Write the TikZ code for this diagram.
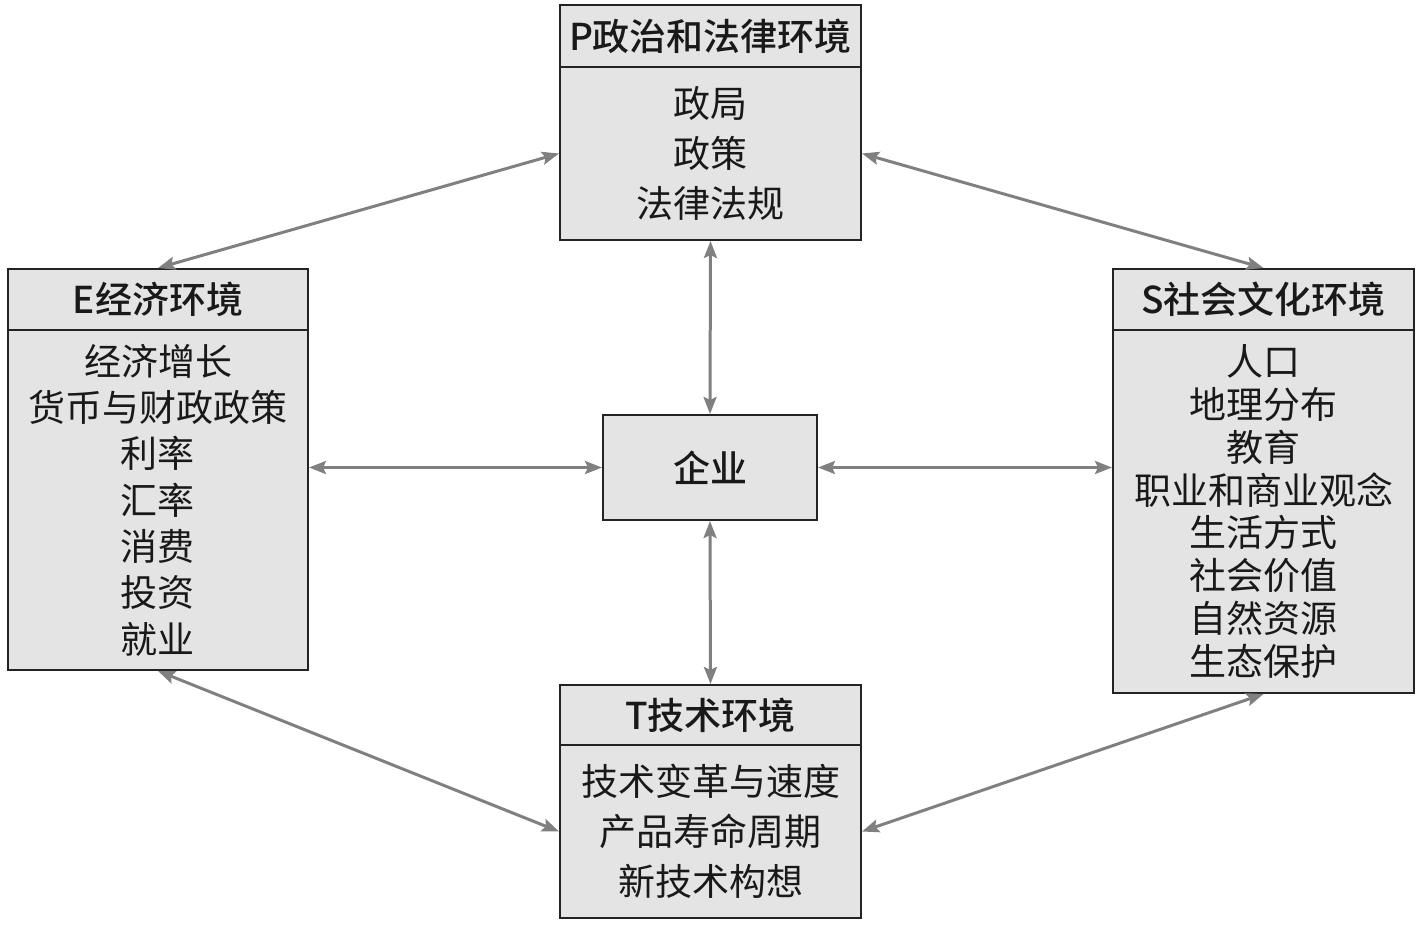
\documentclass[tikz,border=0pt]{standalone}
\usepackage{fontspec}
\setmainfont{Noto Sans CJK SC}[BoldFont={Noto Sans CJK SC Medium}]
\usetikzlibrary{arrows.meta}
\definecolor{boxfill}{RGB}{228,228,228}
\definecolor{boxline}{RGB}{35,35,35}
\definecolor{arrowgray}{RGB}{128,128,128}
\begin{document}
\begin{tikzpicture}[x=1pt,y=-1pt,
  box/.style={draw=boxline,fill=boxfill,line width=2pt,inner sep=0pt,align=center,text=black!90},
  titlebox/.style={box,font=\fontsize{37}{40}\selectfont\bfseries},
  bodybox/.style={box,font=\fontsize{37}{#1}\selectfont},
  link/.style={draw=arrowgray,line width=3pt,{Stealth[length=17pt,width=13pt,inset=3pt]}-{Stealth[length=17pt,width=13pt,inset=3pt]}}
]
\useasboundingbox (0,0) rectangle (1422,926);
% P
\node[titlebox,minimum width=301pt,minimum height=62pt] (Pt) at (710.5,36) {P政治和法律环境};
\node[bodybox=50pt,minimum width=301pt,minimum height=173pt] (Pb) at (710.5,153.5) {政局\\政策\\法律法规};
% E
\node[titlebox,minimum width=300pt,minimum height=61pt] (Et) at (158,299.5) {E经济环境};
\node[bodybox=46.3pt,minimum width=300pt,minimum height=340pt] (Eb) at (158,500) {经济增长\\货币与财政政策\\利率\\汇率\\消费\\投资\\就业};
% S
\node[titlebox,minimum width=301pt,minimum height=61pt] (St) at (1263.5,299.5) {S社会文化环境};
\node[bodybox=42.8pt,minimum width=301pt,minimum height=363pt] (Sb) at (1263.5,511.5) {人口\\地理分布\\教育\\职业和商业观念\\生活方式\\社会价值\\自然资源\\生态保护};
% T
\node[titlebox,minimum width=301pt,minimum height=60pt] (Tt) at (710.5,715) {T技术环境};
\node[bodybox=50pt,minimum width=301pt,minimum height=173pt] (Tb) at (710.5,831.5) {技术变革与速度\\产品寿命周期\\新技术构想};
% center
\node[titlebox,minimum width=214pt,minimum height=105pt] (Q) at (710,467.5) {企业};
% links
\draw[link] (Et.north) -- (Pb.west);
\draw[link] (Pb.east) -- (St.north);
\draw[link] (Eb.south) -- (Tb.west);
\draw[link] (Tb.east) -- (Sb.south);
\draw[link] (Pb.south) -- (Q.north);
\draw[link] (Q.south) -- (Tt.north);
\draw[link] (Q.west -| Eb.east) -- (Q.west);
\draw[link] (Q.east) -- (Q.east -| Sb.west);
\end{tikzpicture}
\end{document}
